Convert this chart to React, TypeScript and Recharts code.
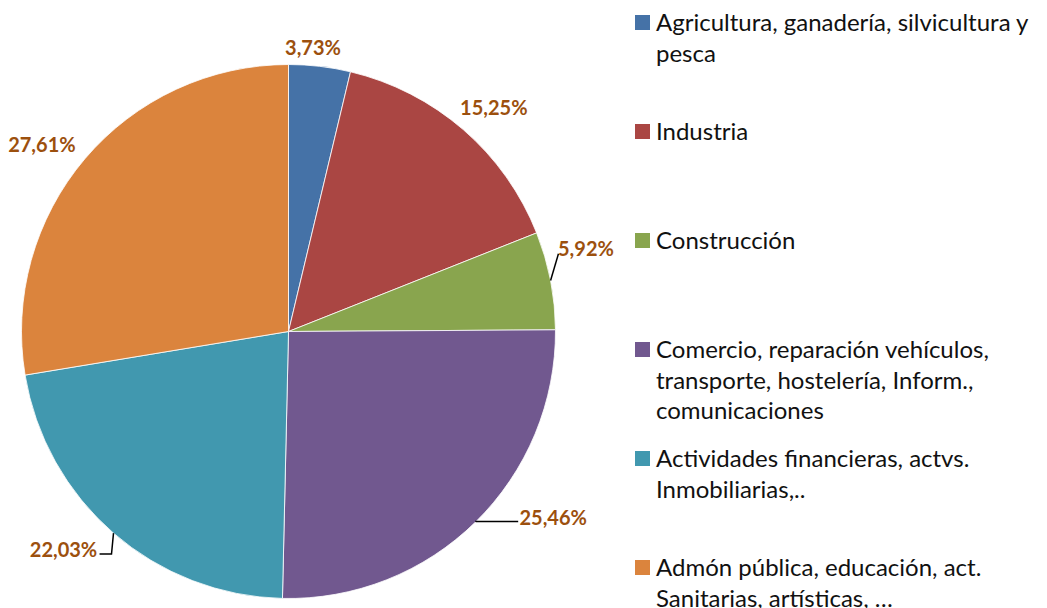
import { PieChart, Pie, Cell, Legend } from 'recharts';

// sector names, as they appear in the legend
const categories = [
  'Agricultura, ganadería, silvicultura y pesca',
  'Industria',
  'Construcción',
  'Comercio, reparación vehículos, transporte, hostelería, Inform., comunicaciones',
  'Actividades financieras, actvs. Inmobiliarias,..',
  'Admón pública, educación, act. Sanitarias, artísticas, …',
];

// share of each sector (%)
const shares = [3.73, 15.25, 5.92, 25.46, 22.03, 27.61];

const colors = ['#4572A7', '#AA4643', '#89A54E', '#71588F', '#4198AF', '#DB843D'];

const data = categories.map((name, i) => ({ name, value: shares[i] }));

// where each percentage label sits: distance past the rim and angular nudge (deg, clockwise)
const labelPlacement = [
  { extra: 19, shift: -1.8, leader: 'none' },
  { extra: 37, shift: 1.6, leader: 'none' },
  { extra: 42, shift: -4.7, leader: 'direct' },
  { extra: 56, shift: -10.5, leader: 'elbow' },
  { extra: 46, shift: 5, leader: 'elbow' },
  { extra: 43, shift: -3, leader: 'none' },
];

const RAD = Math.PI / 180;
const LABEL_COLOR = '#9C500E';
const LABEL_SIZE = 20;
const FONT = 'Lato, "Open Sans", sans-serif';

const fmt = (v: number) => v.toFixed(2).replace('.', ',') + '%';

const renderLabel = (props: any) => {
  const { cx, cy, midAngle, outerRadius, index, value } = props;
  const p = labelPlacement[index];
  const ang = midAngle - p.shift;
  const r = outerRadius + p.extra;
  const lx = cx + r * Math.cos(-ang * RAD);
  const ly = cy + r * Math.sin(-ang * RAD);
  const ax = cx + outerRadius * Math.cos(-midAngle * RAD);
  const ay = cy + outerRadius * Math.sin(-midAngle * RAD);
  const text = fmt(value);
  const halfW = (text.length * 0.55 * LABEL_SIZE) / 2;
  const right = lx > ax;
  let line = null;
  if (p.leader === 'direct') {
    const tx = right ? lx - halfW : lx + halfW;
    line = <path d={`M${ax},${ay}L${tx},${ly + 6}`} stroke="#000" strokeWidth={1.5} fill="none" />;
  } else if (p.leader === 'elbow') {
    const tx = right ? lx - halfW - 2 : lx + halfW + 3;
    const ty = ly + 5;
    line = (
      <path
        d={`M${ax},${ay}L${ax + (right ? 0 : -2)},${ty}L${tx},${ty}`}
        stroke="#000"
        strokeWidth={1.5}
        fill="none"
      />
    );
  }
  return (
    <g key={`lbl-${index}`}>
      {line}
      <text
        x={lx}
        y={ly}
        textAnchor="middle"
        dominantBaseline="central"
        fill={LABEL_COLOR}
        fontSize={LABEL_SIZE}
        fontWeight="bold"
        fontFamily={FONT}
      >
        {text}
      </text>
    </g>
  );
};

const renderLegend = () => (
  <div style={{ fontFamily: FONT, fontSize: 24, color: '#111' }}>
    {categories.map((name, i) => (
      <div key={name} style={{ display: 'flex', height: 109, alignItems: 'flex-start' }}>
        <span
          style={{
            flex: '0 0 15px',
            width: 15,
            height: 15,
            marginTop: 8,
            marginRight: 6,
            background: colors[i],
          }}
        />
        <span style={{ lineHeight: '30.5px', width: 390 }}>{name}</span>
      </div>
    ))}
  </div>
);

export default function App() {
  return (
    <div style={{ position: 'absolute', left: 0, top: 0, width: 1047, height: 608, background: '#fff' }}>
      <PieChart width={1047} height={608} margin={{ top: 0, right: 0, bottom: 0, left: 0 }}>
        <Pie
          data={data}
          dataKey="value"
          nameKey="name"
          cx={288.5}
          cy={331.5}
          outerRadius={267}
          startAngle={90}
          endAngle={-270}
          stroke="#fff"
          strokeWidth={0.8}
          label={renderLabel}
          labelLine={false}
          isAnimationActive={false}
        >
          {data.map((d, i) => (
            <Cell key={d.name} fill={colors[i]} />
          ))}
        </Pie>
        <Legend
          content={renderLegend}
          wrapperStyle={{ left: 635, top: 7, width: 412, height: 600 }}
        />
      </PieChart>
    </div>
  );
}
